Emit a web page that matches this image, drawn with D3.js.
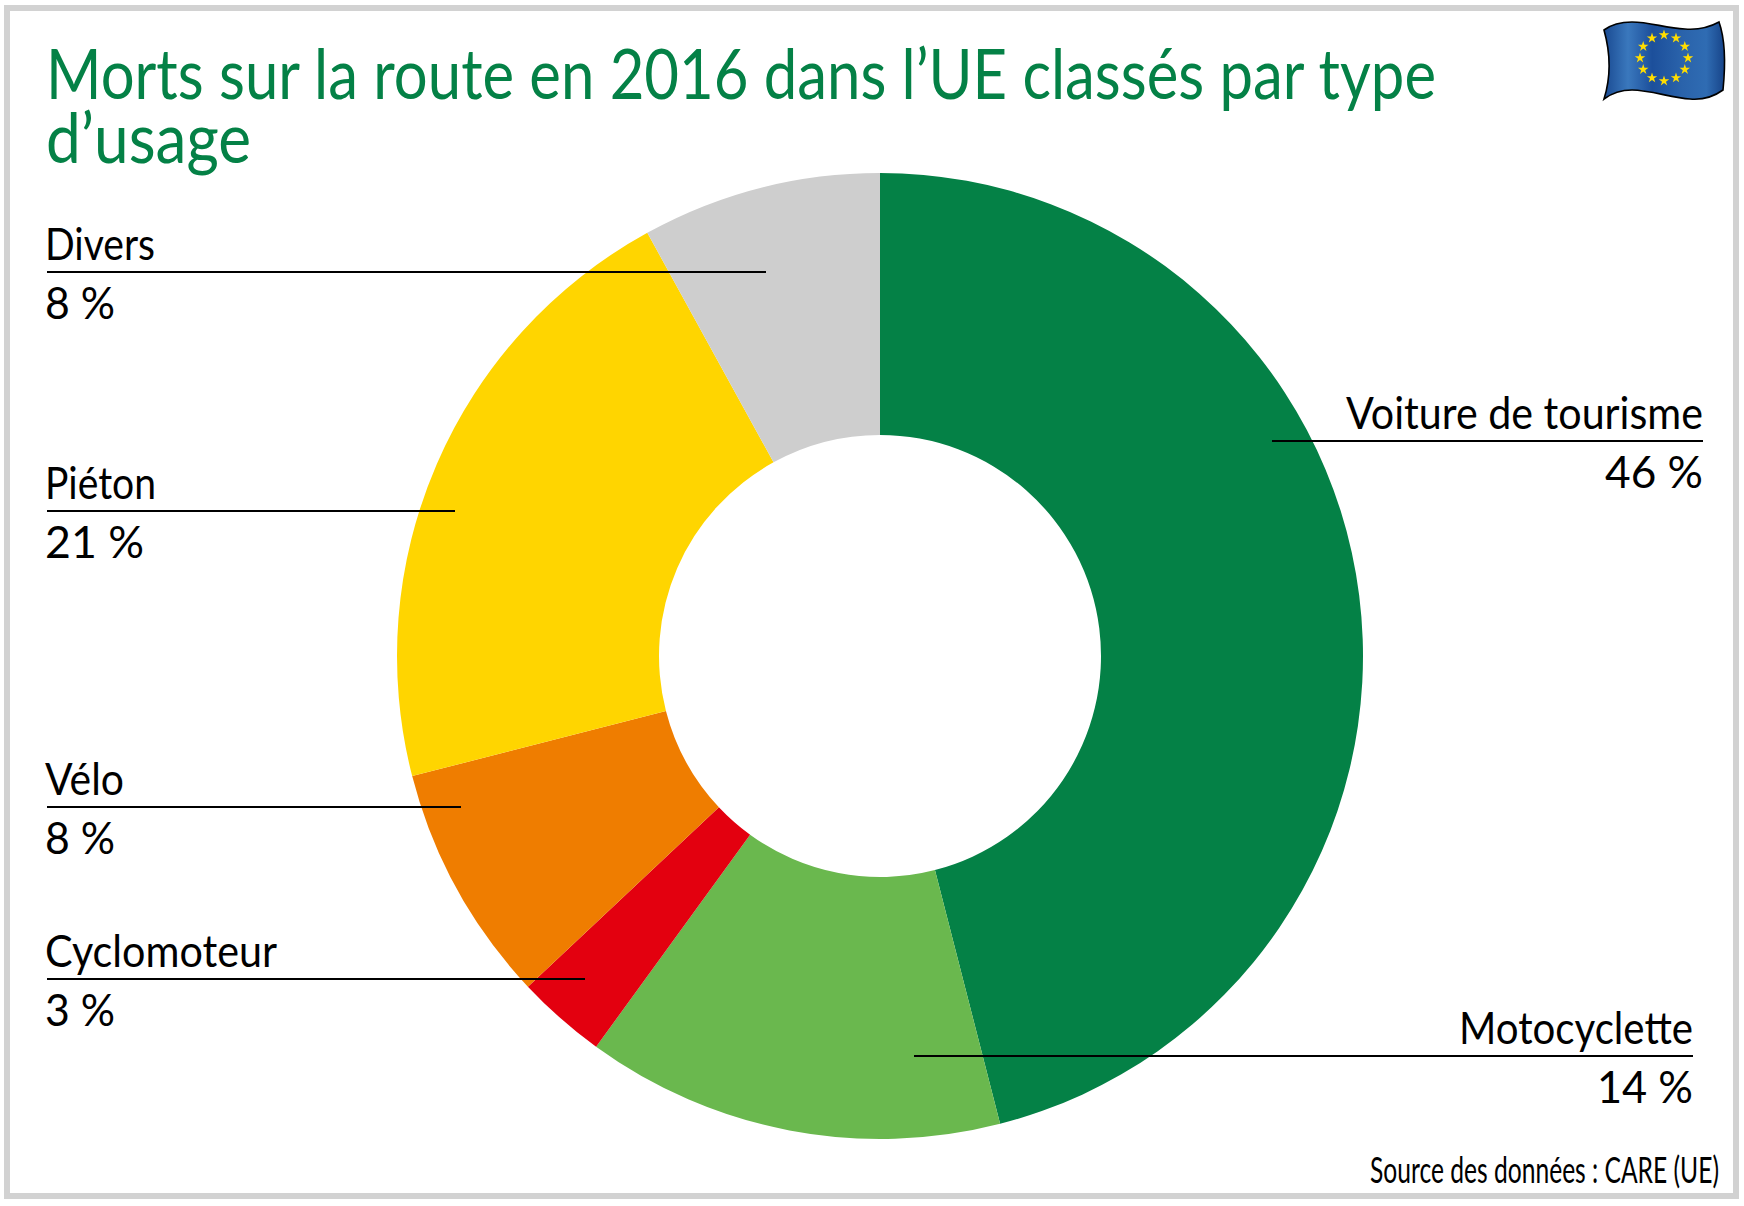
<!DOCTYPE html>
<html lang="fr">
<head>
<meta charset="utf-8">
<title>Morts sur la route en 2016</title>
<script src="https://cdn.jsdelivr.net/npm/d3@7"></script>
<style>
  html, body { margin: 0; padding: 0; background: #fff; }
  svg { display: block; }
  text { font-family: Lato, "Open Sans", sans-serif; }
</style>
</head>
<body>
<div id="chart"></div>
<script>
// values
var categories = ["Voiture de tourisme", "Motocyclette", "Cyclomoteur", "Vélo", "Piéton", "Divers"];
var shares = [46, 14, 3, 8, 21, 8];
var colors = ["#048146", "#6ab84e", "#e3000f", "#ef7d00", "#ffd500", "#cecece"];

var titleLines = ["Morts sur la route en 2016 dans l’UE classés par type", "d’usage"];
var source = "Source des données : CARE (UE)";

// callout layout, same order as categories: [line start, line end, line y, name width, value width]
var calloutSide = ["end", "end", "start", "start", "start", "start"];
var calloutLayout = [
  [1272, 1703, 441, 357, 98],
  [914, 1693, 1056, 234, 96],
  [47, 585, 979, 232, 70],
  [47, 461, 807, 79, 70],
  [47, 455, 511, 111, 99],
  [47, 766, 272, 110, 70]
];

var width = 1744, height = 1206;
var cx = 880, cy = 656, outerR = 483, innerR = 221;

var svg = d3.select("#chart").append("svg")
  .attr("width", width)
  .attr("height", height);

// frame
svg.append("rect")
  .attr("x", 7).attr("y", 8)
  .attr("width", 1729).attr("height", 1188)
  .attr("fill", "none")
  .attr("stroke", "#d2d2d2")
  .attr("stroke-width", 6);

// title
svg.selectAll("text.title")
  .data(titleLines)
  .enter().append("text")
  .attr("class", "title")
  .attr("x", 46)
  .attr("y", function(d, i) { return 99 + i * 64; })
  .attr("font-size", 69)
  .attr("fill", "#048146")
  .attr("textLength", function(d, i) { return i == 0 ? 1390 : 205; })
  .attr("lengthAdjust", "spacingAndGlyphs")
  .text(function(d) { return d; });

// donut
var pie = d3.pie().sort(null).value(function(d) { return d; });
var arc = d3.arc().innerRadius(innerR).outerRadius(outerR);

var g = svg.append("g").attr("transform", "translate(" + cx + "," + cy + ")");
g.selectAll("path")
  .data(pie(shares))
  .enter().append("path")
  .attr("d", arc)
  .attr("fill", function(d, i) { return colors[i]; });

// callouts
categories.forEach(function(name, i) {
  var c = calloutLayout[i];
  var anchor = calloutSide[i];
  var tx = anchor == "end" ? c[1] : 45;

  svg.append("line")
    .attr("x1", c[0]).attr("x2", c[1])
    .attr("y1", c[2]).attr("y2", c[2])
    .attr("stroke", "#000")
    .attr("stroke-width", 2.2);

  svg.append("text")
    .attr("x", tx).attr("y", c[2] - 12)
    .attr("text-anchor", anchor)
    .attr("font-size", 44)
    .attr("textLength", c[3])
    .attr("lengthAdjust", "spacingAndGlyphs")
    .text(name);

  svg.append("text")
    .attr("x", tx).attr("y", c[2] + 47)
    .attr("text-anchor", anchor)
    .attr("font-size", 44)
    .attr("textLength", c[4])
    .attr("lengthAdjust", "spacingAndGlyphs")
    .text(shares[i] + " %");
});

// source
svg.append("text")
  .attr("x", 1719).attr("y", 1183)
  .attr("text-anchor", "end")
  .attr("font-size", 37)
  .attr("textLength", 349)
  .attr("lengthAdjust", "spacingAndGlyphs")
  .text(source);

// EU flag
var defs = svg.append("defs");
var grad = defs.append("linearGradient").attr("id", "flagBlue");
var flagStops = [[0, "#1a4a92"], [0.2, "#3a78bd"], [0.4, "#1c4f9b"], [0.65, "#2a63ab"], [0.85, "#2f6cb3"], [1, "#174489"]];
grad.selectAll("stop")
  .data(flagStops)
  .enter().append("stop")
  .attr("offset", function(d) { return d[0]; })
  .attr("stop-color", function(d) { return d[1]; });

svg.append("path")
  .attr("d", "M1604,30 C1612,24 1622,22 1632,22 C1650,22 1665,28 1685,29 C1698,30 1710,27 1719,22 C1724,36 1726,60 1723,90 C1712,98 1702,100 1690,99 C1672,98 1650,90 1632,90 C1620,90 1612,93 1604,99 C1610,80 1611,55 1604,30 Z")
  .attr("fill", "url(#flagBlue)")
  .attr("stroke", "#000")
  .attr("stroke-width", 1.6);

var star = d3.symbol().type(d3.symbolStar).size(34);
svg.selectAll("path.star")
  .data(d3.range(12))
  .enter().append("path")
  .attr("class", "star")
  .attr("d", star)
  .attr("fill", "#ffdd00")
  .attr("transform", function(d) {
    var a = d * Math.PI / 6;
    return "translate(" + (1664 + 24 * Math.sin(a)) + "," + (58 - 23 * Math.cos(a)) + ")";
  });
</script>
</body>
</html>
